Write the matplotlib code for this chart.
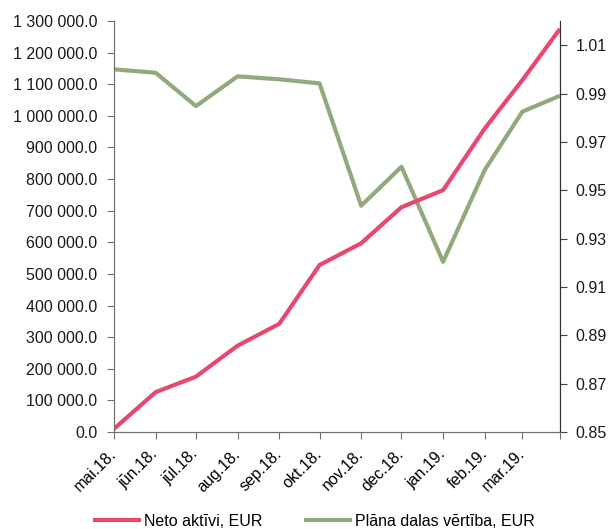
import matplotlib
matplotlib.use("Agg")
import matplotlib.pyplot as plt
import matplotlib.ticker as mticker
import numpy as np
import pandas as pd

# data
dates = ["2018-05-01", "2018-06-01", "2018-07-01", "2018-08-01", "2018-09-01", "2018-10-01",
         "2018-11-01", "2018-12-01", "2019-01-01", "2019-02-01", "2019-03-01", "2019-03-29"]
month_labels = ["mai.18.", "jūn.18.", "jūl.18.", "aug.18.", "sep.18.", "okt.18.",
                "nov.18.", "dec.18.", "jan.19.", "feb.19.", "mar.19.", ""]
neto_aktivi = [10000, 126000, 175000, 273000, 342000, 528000,
               597000, 711000, 765000, 960000, 1113000, 1275000]
dalas_vertiba = [1.0000, 0.9986, 0.9848, 0.9971, 0.9959, 0.9942,
                 0.9436, 0.9597, 0.9204, 0.9584, 0.9825, 0.9891]

red = "#E8486F"
green = "#92AA7B"

plt.rcParams['font.family'] = ['Liberation Sans', 'DejaVu Sans']
plt.rcParams['font.size'] = 11.5

x = pd.to_datetime(dates)

fig = plt.figure(figsize=(6.09, 5.29), dpi=100)
ax = fig.add_axes([0.1872, 0.1834, 0.7323, 0.7769])
ax2 = ax.twinx()

l1, = ax.plot(x, neto_aktivi, color=red, lw=3, solid_capstyle='butt', label="Neto aktīvi, EUR")
l2, = ax2.plot(x, dalas_vertiba, color=green, lw=3, solid_capstyle='butt', label="Plāna dalas vērtība, EUR")
ax.set_zorder(ax2.get_zorder() + 1)
ax.patch.set_visible(False)

ax.set_xlim(x[0], x[-1])
ax.set_ylim(0, 1300000)
ax.set_yticks(np.arange(0, 1300001, 100000))
ax.yaxis.set_major_formatter(mticker.FuncFormatter(lambda v, p: "{:,.1f}".format(v).replace(",", " ")))
ax2.set_ylim(0.85, 1.02)
ax2.set_yticks(np.arange(0.85, 1.0101, 0.02))
ax2.yaxis.set_major_formatter(mticker.FormatStrFormatter("%.2f"))

ax.set_xticks(x)
ax.set_xticklabels(month_labels, rotation=45, ha='right', va='center', rotation_mode='anchor')
ax.tick_params(axis='x', length=5, pad=9, color='#707070')
ax.tick_params(axis='y', length=5, pad=7, color='#707070', labelcolor='#1a1a1a')
ax2.tick_params(axis='y', length=5, pad=6, color='#404040', labelcolor='#1a1a1a')

for a in (ax, ax2):
    a.spines['top'].set_visible(False)
    a.spines['left'].set_color('#707070')
    a.spines['bottom'].set_color('#707070')
    a.spines['right'].set_color('#303030')

fig.legend(handles=[l1, l2], loc='lower center', bbox_to_anchor=(0.515, -0.027), ncol=2,
           frameon=False, handlelength=3, handletextpad=0.2, columnspacing=2.6, fontsize=11.5)

fig.savefig("out.png", dpi=100)
